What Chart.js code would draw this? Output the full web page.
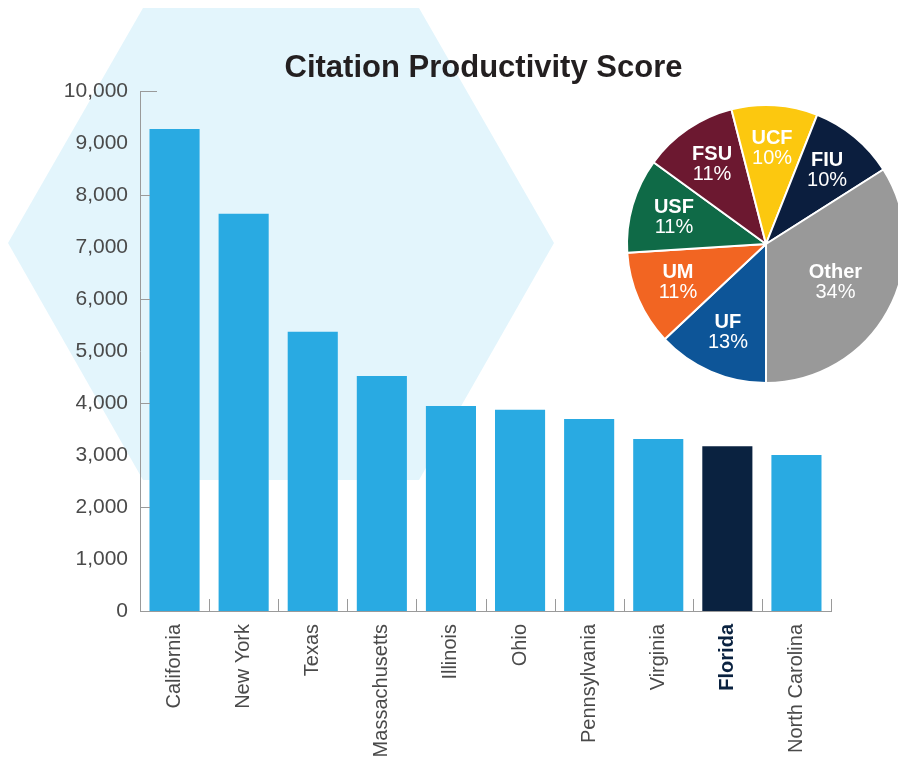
<!DOCTYPE html>
<html>
<head>
<meta charset="utf-8">
<script src="https://cdn.jsdelivr.net/npm/chart.js"></script>
<style>
  html, body { margin: 0; padding: 0; background: #fff; overflow: hidden; }
  #wrap { position: relative; width: 898px; height: 765px; overflow: hidden; }
  #bars { position: absolute; left: 0; top: 0; }
  #pie { position: absolute; left: 616px; top: 94px; }
</style>
</head>
<body>
<div id="wrap">
  <canvas id="bars" width="898" height="765"></canvas>
  <canvas id="pie" width="300" height="300"></canvas>
</div>
<script>
// bar chart data
const states = ['California', 'New York', 'Texas', 'Massachusetts', 'Illinois', 'Ohio', 'Pennsylvania', 'Virginia', 'Florida', 'North Carolina'];
const scores = [9270, 7640, 5370, 4520, 3940, 3870, 3690, 3310, 3170, 3000];
const yTicks = [0, 1000, 2000, 3000, 4000, 5000, 6000, 7000, 8000, 9000, 10000];

// pie chart data (Florida universities)
const schools = ['UF', 'UM', 'USF', 'FSU', 'UCF', 'FIU', 'Other'];
const shares = [13, 11, 11, 11, 10, 10, 34];

const highlight = 'Florida';
const FONT = "'Liberation Sans', Arial, Helvetica, sans-serif";
const BLUE = '#29aae2';
const NAVY = '#0a2240';
const AXIS = '#9a9a9a';
const pieColors = ['#0d5598', '#f26522', '#0f6a47', '#6c1830', '#fcc80f', '#0b1e3e', '#999999'];

document.addEventListener('DOMContentLoaded', function() {

    // hexagon backdrop, title and the small inward ticks
    const decor = {
        id: 'decor',
        beforeDraw(chart) {
            const ctx = chart.ctx;
            ctx.save();
            ctx.fillStyle = '#e3f5fc';
            ctx.beginPath();
            ctx.moveTo(8, 243);
            ctx.lineTo(143, 8);
            ctx.lineTo(419, 8);
            ctx.lineTo(554, 243);
            ctx.lineTo(419, 480);
            ctx.lineTo(143, 480);
            ctx.closePath();
            ctx.fill();
            ctx.restore();
        },
        afterDatasetsDraw(chart) {
            const ctx = chart.ctx;
            const x = chart.scales.x;
            const y = chart.scales.y;
            const area = chart.chartArea;
            ctx.save();
            ctx.strokeStyle = AXIS;
            ctx.lineWidth = 1;
            ctx.beginPath();
            // y ticks every 2,000 pointing into the plot
            yTicks.filter(v => v % 2000 === 0 && v > 0).forEach(v => {
                const py = Math.round(y.getPixelForValue(v)) + 0.5;
                const len = v === yTicks[yTicks.length - 1] ? 17 : 10;
                ctx.moveTo(area.left, py);
                ctx.lineTo(area.left + len, py);
            });
            // x ticks between categories
            for (let i = 0; i < states.length; i++) {
                const px = Math.round(x.getPixelForValue(i) + (x.getPixelForValue(1) - x.getPixelForValue(0)) / 2) + 0.5;
                ctx.moveTo(px, area.bottom);
                ctx.lineTo(px, area.bottom - 12);
            }
            ctx.stroke();
            ctx.restore();
        },
        afterDraw(chart) {
            const ctx = chart.ctx;
            const area = chart.chartArea;
            ctx.save();
            ctx.font = 'bold 31px ' + FONT;
            ctx.fillStyle = '#231f20';
            ctx.textAlign = 'center';
            ctx.textBaseline = 'alphabetic';
            ctx.fillText('Citation Productivity Score', (area.left + area.right) / 2 - 2, 77);
            ctx.restore();
        }
    };

    new Chart(document.getElementById('bars'), {
        type: 'bar',
        data: {
            labels: states,
            datasets: [{
                data: scores,
                backgroundColor: ctx => states[ctx.index] === highlight ? NAVY : BLUE,
                barPercentage: 0.725,
                categoryPercentage: 1
            }]
        },
        options: {
            responsive: false,
            animation: false,
            layout: { padding: { top: 91, right: 67, left: 0, bottom: 0 } },
            plugins: {
                legend: { display: false },
                tooltip: { enabled: false }
            },
            scales: {
                x: {
                    grid: { display: false },
                    border: { color: AXIS, width: 1 },
                    afterFit: scale => { scale.height = 154; },
                    ticks: {
                        minRotation: 90,
                        maxRotation: 90,
                        autoSkip: false,
                        padding: 5,
                        color: ctx => states[ctx.index] === highlight ? NAVY : '#4a4a4a',
                        font: ctx => ({
                            family: FONT,
                            size: 20,
                            weight: states[ctx.index] === highlight ? 'bold' : 'normal'
                        })
                    }
                },
                y: {
                    min: 0,
                    max: 10000,
                    grid: { display: false },
                    border: { color: AXIS, width: 1 },
                    afterFit: scale => { scale.width = 140; },
                    afterBuildTicks: scale => { scale.ticks = yTicks.map(v => ({ value: v })); },
                    ticks: {
                        padding: 4,
                        color: '#4a4a4a',
                        font: { family: FONT, size: 21 },
                        callback: v => v.toLocaleString('en-US')
                    }
                }
            }
        },
        plugins: [decor]
    });

    // two-line labels inside the pie slices
    const sliceLabels = {
        id: 'sliceLabels',
        afterDatasetsDraw(chart) {
            const ctx = chart.ctx;
            const arcs = chart.getDatasetMeta(0).data;
            ctx.save();
            ctx.fillStyle = '#ffffff';
            ctx.textAlign = 'center';
            ctx.textBaseline = 'middle';
            arcs.forEach((arc, i) => {
                const mid = (arc.startAngle + arc.endAngle) / 2;
                const r = arc.outerRadius * (schools[i] === 'Other' ? 0.57 : 0.69);
                const cx = arc.x + Math.cos(mid) * r;
                const cy = arc.y + Math.sin(mid) * r;
                ctx.font = 'bold 20px ' + FONT;
                ctx.fillText(schools[i], cx, cy - 10);
                ctx.font = '20px ' + FONT;
                ctx.fillText(shares[i] + '%', cx, cy + 10);
            });
            ctx.restore();
        }
    };

    new Chart(document.getElementById('pie'), {
        type: 'pie',
        data: {
            labels: schools,
            datasets: [{
                data: shares,
                backgroundColor: pieColors,
                borderColor: '#ffffff',
                borderWidth: 2
            }]
        },
        options: {
            responsive: false,
            animation: false,
            rotation: 180,
            radius: 139,
            plugins: {
                legend: { display: false },
                tooltip: { enabled: false }
            }
        },
        plugins: [sliceLabels]
    });
});
</script>
</body>
</html>
